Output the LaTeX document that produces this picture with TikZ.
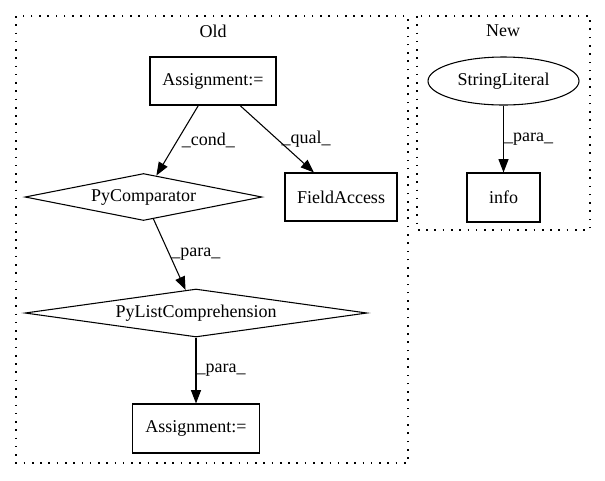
\documentclass[tikz,border=0pt]{standalone}
\usepackage{fontspec}
\setmainfont{Liberation Serif}
\usetikzlibrary{shapes.geometric,arrows.meta}
\begin{document}
\begin{tikzpicture}[x=0.75pt,y=-0.75pt,
  every node/.style={font=\fontsize{13.5pt}{16pt}\selectfont},
  box/.style={draw,line width=0.8pt,rectangle,inner sep=0pt},
  dia/.style={draw,line width=0.8pt,diamond,inner sep=0pt},
  ell/.style={draw,line width=0.8pt,ellipse,inner sep=0pt},
  cluster/.style={draw,line width=0.9pt,dash pattern=on 1.2pt off 5pt},
  edge/.style={draw,line width=0.8pt,-{Triangle[length=10pt,width=7.5pt]}},
  lab/.style={anchor=west,inner sep=0pt}]
\useasboundingbox (0,0) rectangle (605,480);
% clusters
\draw[cluster] (16,16) rectangle (408,463);
\draw[cluster] (417,16) rectangle (590,230);
\node (old) at (213,31) {Old};
\node (new) at (503,31) {New};
% nodes
\node[box,minimum width=126*0.75pt,minimum height=48*0.75pt] (a1) at (213,81) {Assignment:=};
\node[dia,minimum width=237*0.75pt,minimum height=47*0.75pt,aspect=5] (pc) at (143.5,197) {PyComparator};
\node[box,minimum width=112*0.75pt,minimum height=48*0.75pt] (fa) at (341,197) {FieldAccess};
\node[dia,minimum width=342*0.75pt,minimum height=48*0.75pt,aspect=7] (pl) at (196,313) {PyListComprehension};
\node[box,minimum width=127*0.75pt,minimum height=49*0.75pt] (a2) at (196,428.5) {Assignment:=};
\node[ell,minimum width=151*0.75pt,minimum height=48*0.75pt] (sl) at (503.5,81) {StringLiteral};
\node[box,minimum width=73*0.75pt,minimum height=49*0.75pt] (info) at (503.5,197.5) {info};
% edges
\draw[edge] (a1) -- node[lab,pos=0.5,xshift=3pt] {\_cond\_} (pc);
\draw[edge] (a1) -- node[lab,pos=0.5,xshift=3pt] {\_qual\_} (fa);
\draw[edge] (pc) -- node[lab,pos=0.5,xshift=1pt] {\_para\_} (pl);
\draw[edge] (pl) -- node[lab,pos=0.5,xshift=0pt] {\_para\_} (a2);
\draw[edge] (sl) -- node[lab,pos=0.5,xshift=0pt] {\_para\_} (info);
\end{tikzpicture}
\end{document}
